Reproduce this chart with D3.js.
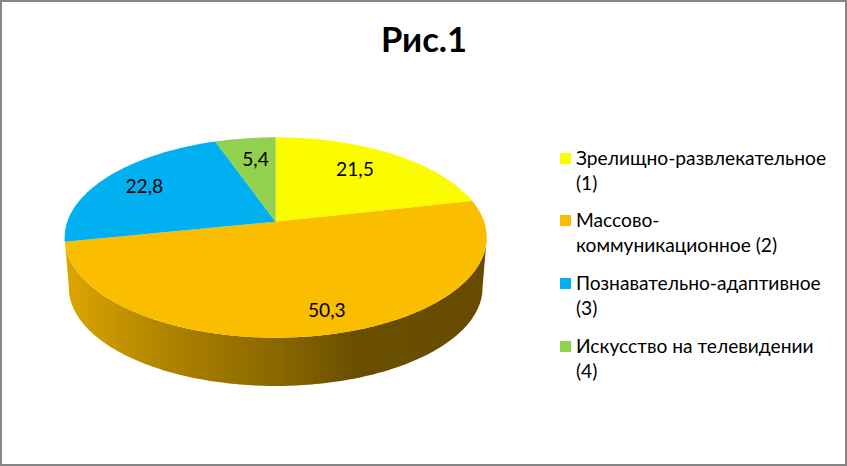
<!DOCTYPE html>
<html><head><meta charset="utf-8">
<script src="https://cdnjs.cloudflare.com/ajax/libs/d3/7.8.5/d3.min.js"></script>
<style>html,body{margin:0;padding:0;background:#fff}svg{display:block}text{font-family:Lato,"Open Sans","Noto Sans",sans-serif;fill:#000}</style>
</head><body><svg id="c" width="847" height="466"></svg>
<script>
const titleText = "Рис.1";
const categories = ["Зрелищно-развлекательное (1)","Массово-коммуникационное (2)","Познавательно-адаптивное (3)","Искусство на телевидении (4)"];
const values = [21.5,50.3,22.8,5.4];
const valueLabels = ["21,5","50,3","22,8","5,4"];
const colors = ["#fcfc00","#fbbd00","#00b0f0","#92d050"];
const legendLines = [["Зрелищно-развлекательное","(1)"],["Массово-","коммуникационное (2)"],["Познавательно-адаптивное","(3)"],["Искусство на телевидении","(4)"]];

const W=847,H=466,cx=275.7,cy=221.7,A=208.4,B=97.7,k=0.1576;
const svg=d3.select("#c");
svg.append("rect").attr("x",1).attr("y",1).attr("width",W-2).attr("height",H-2).attr("fill","#fff").attr("stroke","#868686").attr("stroke-width",2);

// perspective projection of the pie's disc
function project(theta,r,scale=1,y0=cy){
  const X=r*Math.sin(theta),Y=r*Math.cos(theta),w=1+k*Y;
  return [cx+scale*A*X/w,y0-scale*B*Y/w];
}
const arcs=d3.pie().sort(null).value(d=>d)(values);
const line=d3.line();
function rim(a0,a1,scale,y0){
  const n=Math.max(2,Math.ceil((a1-a0)*60));
  return d3.range(n+1).map(i=>project(a0+(a1-a0)*i/n,1,scale,y0));
}
// side wall
const defs=svg.append("defs");
const grad=defs.append("linearGradient").attr("id","side").attr("gradientUnits","userSpaceOnUse").attr("x1",65).attr("x2",487).attr("y1",0).attr("y2",0);
[[0,"#dca600"],[0.25,"#ad8200"],[0.5,"#8a6800"],[0.68,"#6b4f00"],[1,"#664b00"]].forEach(s=>grad.append("stop").attr("offset",s[0]).attr("stop-color",s[1]));
const sideScale=0.98,sideY=272.3,t0=Math.acos(-k),t1=2*Math.PI-t0;
svg.append("path").attr("fill","url(#side)")
  .attr("d",line(rim(t0,t1,1,cy).concat(rim(t0,t1,sideScale,sideY).reverse()))+"Z");
// top slices
svg.selectAll("path.s").data(arcs).join("path").attr("class","s")
  .attr("fill",(d,i)=>colors[i])
  .attr("d",d=>line([[cx,cy]].concat(rim(d.startAngle,d.endAngle,1,cy)))+"Z");
// value labels
const labelNudge=[[-4.7,-2.6],[17,14],[-11,-3],[2,-1]];
svg.selectAll("text.v").data(arcs).join("text").attr("class","v")
  .attr("text-anchor","middle").attr("font-size",19.2)
  .attr("x",(d,i)=>project((d.startAngle+d.endAngle)/2,0.7)[0]+labelNudge[i][0])
  .attr("y",(d,i)=>project((d.startAngle+d.endAngle)/2,0.7)[1]+labelNudge[i][1]+6.5)
  .text((d,i)=>valueLabels[i]);
// title
svg.append("text").attr("x",424).attr("y",52).attr("text-anchor","middle").attr("font-size",34.6).attr("font-weight",700).text(titleText);
// legend
const legendY=[165,227,290,353];
const lg=svg.selectAll("g.l").data(categories).join("g").attr("class","l").attr("transform",(d,i)=>`translate(560,${legendY[i]})`);
lg.append("rect").attr("x",0).attr("y",-12).attr("width",11).attr("height",11).attr("fill",(d,i)=>colors[i]);
lg.each(function(d,i){
  const t=d3.select(this).append("text").attr("font-size",19.2);
  legendLines[i].forEach((s,j)=>t.append("tspan").attr("x",16).attr("y",j*25).text(s));
});
</script></body></html>
